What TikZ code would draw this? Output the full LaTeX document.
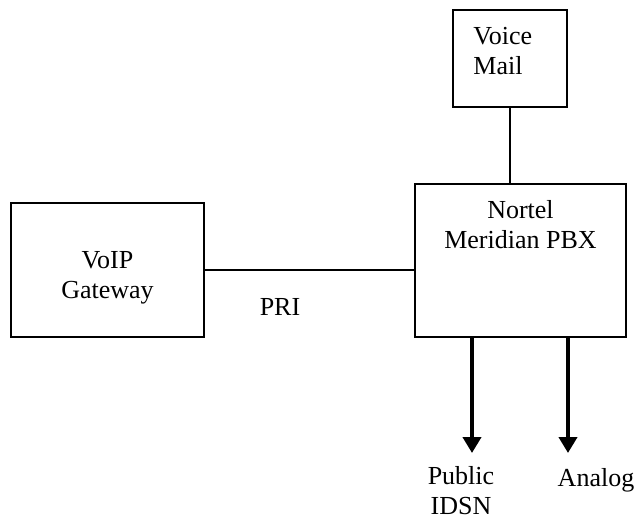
\documentclass[tikz,border=0pt]{standalone}
\usepackage{fontspec}
\setmainfont{Liberation Serif}
\usetikzlibrary{arrows.meta,positioning}

\tikzset{
  box/.style={draw,line width=1.5pt,inner sep=0pt},
  lbl/.style={inner sep=0pt,font=\fontsize{26}{30}\selectfont},
  link/.style={line width=1.3pt},
  feed/.style={line width=4pt,-{Triangle[width=18pt,length=16pt]}}
}

\begin{document}
\begin{tikzpicture}[x=1pt,y=-1pt]
            \useasboundingbox (0,0) rectangle (635,520);

            \begin{scope}
                \node (vm)[box,minimum width=114pt,minimum height=97pt] at (510,58.5) {};
                \node (pbx)[box,minimum width=211pt,minimum height=153pt] at (520.5,260.5) {};
                \node (gw)[box,minimum width=193pt,minimum height=134pt] at (107.5,270) {};
            \end{scope}

            \node (vmtxt)[lbl,align=left,anchor=north west] at ([xshift=21pt,yshift=-18pt]vm.north west) {Voice\\Mail};
            \node (pbxtxt)[lbl,align=center,below=17pt of pbx.north] {Nortel\\Meridian PBX};
            \node (gwtxt)[lbl,align=center,below=49pt of gw.north] {VoIP\\Gateway};
            \node (pri)[lbl,anchor=base] at (280,315) {PRI};

            \coordinate (pubend) at (472,453);
            \coordinate (anaend) at (568,453);
            \node (pub)[lbl,align=center,anchor=north] at (461,466) {Public\\IDSN};
            \node (ana)[lbl,anchor=base] at (596,486) {Analog};

            \begin{scope}
                \path [link] (vm.south) edge (vm.south |- pbx.north);
                \path [link] (gw) edge (gw -| pbx.west);
                \draw [feed] (pbx.south -| pubend) -- (pubend);
                \draw [feed] (pbx.south -| anaend) -- (anaend);
            \end{scope}
            \end{tikzpicture}
\end{document}
